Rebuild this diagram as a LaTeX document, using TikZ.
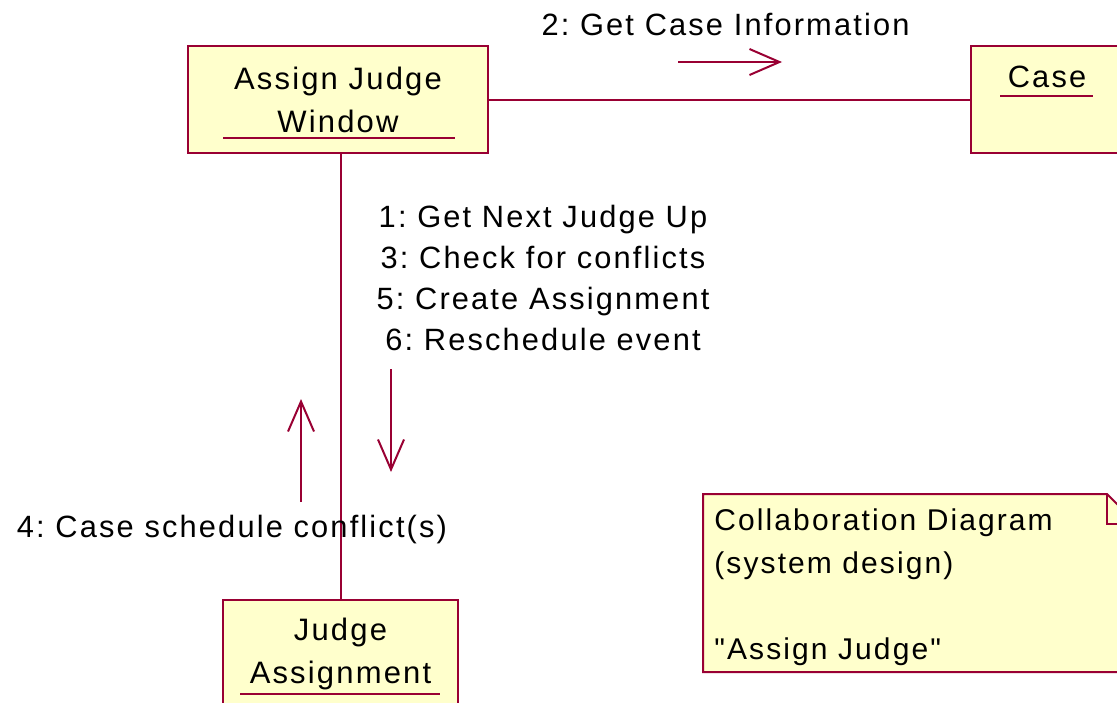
\documentclass[tikz,border=0pt]{standalone}
\usepackage{fontspec}
\setmainfont[LetterSpace=7,Ligatures=TeXOff]{Liberation Sans}
\usepackage{xcolor}
\usepackage{tikz}
\usetikzlibrary{
  arrows.meta,
  positioning,
  calc
}
\definecolor{RoseRed}{HTML}{990033}
\definecolor{RoseFill}{HTML}{FFFFCC}
\definecolor{RoseText}{HTML}{000000}

\tikzset{
  objbox/.style={draw=RoseRed,fill=RoseFill,line width=1pt,inner sep=0pt,
                 align=center,text=RoseText,font=\fontsize{15.5}{21.5}\selectfont},
  link/.style={draw=RoseRed,line width=1pt},
  msg/.style={draw=RoseRed,line width=1pt,-{Straight Barb[length=15pt,width=13pt]}},
  uline/.style={draw=RoseRed,line width=1pt},
  lbl/.style={inner sep=0pt,text=RoseText,font=\fontsize{15.4}{20.5}\selectfont}
}

\begin{document}
\frenchspacing
\begin{tikzpicture}[x=0.5pt,y=-0.5pt]
  \useasboundingbox (0,0) rectangle (1117,702);

  % objects
  \node[objbox,minimum width=150pt,minimum height=53.5pt] (window) at (338,99.5)
    {Assign Judge\\Window};
  \node[objbox,minimum width=76pt,minimum height=53.5pt] (case) at (1047,99.5) {};
  \node[lbl,anchor=base] (casename) at (1047,87) {Case};
  \node[objbox,minimum width=117.5pt,minimum height=53.5pt] (judge) at (340.5,653.5)
    {Judge\\Assignment};

  \draw[uline] ($(window.center)+(-115,38.5)$) -- ($(window.center)+(117,38.5)$);
  \draw[uline] ($(case.center)+(-47,-3.5)$) -- ($(case.center)+(46,-3.5)$);
  \draw[uline] ($(judge.center)+(-100.5,40.5)$) -- ($(judge.center)+(99.5,40.5)$);

  % links
  \draw[link] (window.east) -- (case.west);
  \draw[link] (judge.north) -- (judge.north |- window.south);

  % messages
  \node[lbl,anchor=base] (m2) at (725.5,35) {2: Get Case Information};
  \coordinate (m2s) at (678,62);
  \coordinate (m2e) at (782,62);
  \draw[msg] (m2s) -- (m2e);

  \node[lbl,anchor=north,align=center] (m1356) at (543,205)
    {1: Get Next Judge Up\\3: Check for conflicts\\5: Create Assignment\\6: Reschedule event};
  \coordinate (dns) at (391,369);
  \coordinate (dne) at (391,472);
  \draw[msg] (dns) -- (dne);

  \node[lbl,anchor=base] (m4) at (232,537) {4: Case schedule conflict(s)};
  \coordinate (ups) at (301,502);
  \coordinate (upe) at (301,399);
  \draw[msg] (ups) -- (upe);

  % note
  \draw[link,fill=RoseFill] (703,494) -- (1107,494) -- (1137,524) -- (1137,672)
    -- (703,672) -- cycle;
  \draw[link] (1107,494) -- (1107,524) -- (1137,524);
  \node[lbl,anchor=north west,align=left,font=\fontsize{15}{21.5}\selectfont] (notetext)
    at (714,508) {Collaboration Diagram\\(system design)\\[21.5pt]"Assign Judge"};
\end{tikzpicture}
\end{document}
